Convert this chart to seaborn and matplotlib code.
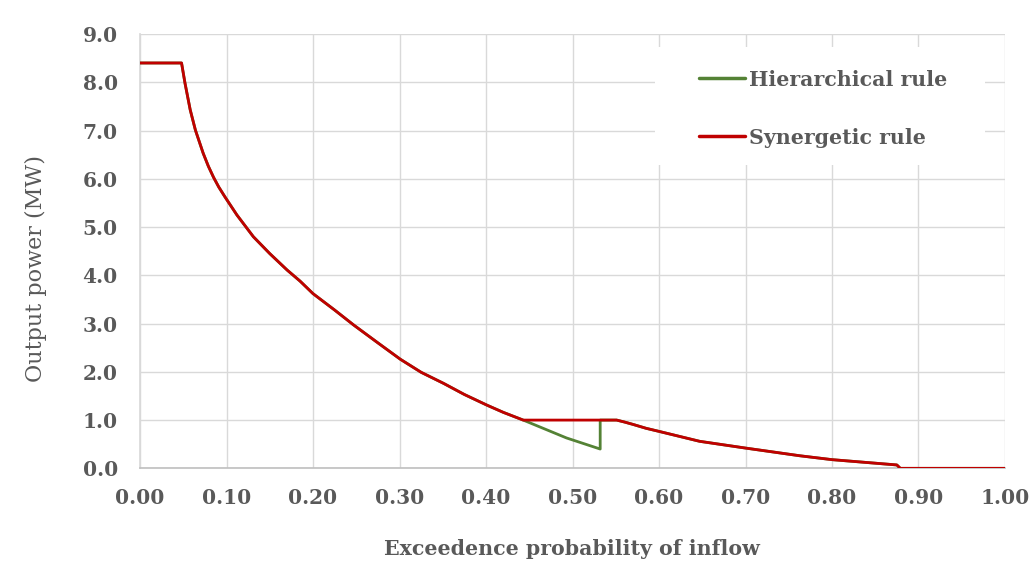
import matplotlib
matplotlib.use("Agg")
import matplotlib.pyplot as plt
from matplotlib.patches import Rectangle
import seaborn as sns
import pandas as pd

# Shared descending part of the duration curve (exceedence probability, MW)
base_p = [0.000, 0.048, 0.052, 0.058, 0.064, 0.073, 0.079, 0.085, 0.091, 0.098,
          0.112, 0.131, 0.150, 0.170, 0.185, 0.200, 0.225, 0.247, 0.275, 0.301,
          0.325, 0.351, 0.375, 0.401, 0.420, 0.443]
base_v = [8.40, 8.40, 7.98, 7.43, 7.01, 6.53, 6.26, 6.03, 5.83, 5.63,
          5.25, 4.80, 4.45, 4.11, 3.88, 3.62, 3.28, 2.97, 2.60, 2.26,
          1.99, 1.76, 1.53, 1.31, 1.16, 1.00]

# Tail after the 1.0 MW plateau
tail_p = [0.551, 0.560, 0.570, 0.585, 0.599, 0.647, 0.700, 0.763, 0.800, 0.875, 0.879, 1.000]
tail_v = [1.00, 0.96, 0.91, 0.83, 0.77, 0.56, 0.42, 0.26, 0.18, 0.07, 0.00, 0.00]

# Hierarchical rule middle section (drops, then jumps back to 1.0)
hier_mid_p = [0.443, 0.493, 0.532, 0.532]
hier_mid_v = [1.00, 0.63, 0.40, 1.00]

# Synergetic rule middle section (holds 1.0 MW)
syn_mid_p = [0.443, 0.532]
syn_mid_v = [1.00, 1.00]

hier_p = base_p + hier_mid_p + tail_p
hier_v = base_v + hier_mid_v + tail_v
syn_p = base_p + syn_mid_p + tail_p
syn_v = base_v + syn_mid_v + tail_v

series_names = ["Hierarchical rule", "Synergetic rule"]
series_colors = ["#548235", "#C00000"]

x_ticks = [0.0, 0.1, 0.2, 0.3, 0.4, 0.5, 0.6, 0.7, 0.8, 0.9, 1.0]
y_ticks = [0.0, 1.0, 2.0, 3.0, 4.0, 5.0, 6.0, 7.0, 8.0, 9.0]

df = pd.concat([
    pd.DataFrame({"p": hier_p, "v": hier_v, "rule": series_names[0]}),
    pd.DataFrame({"p": syn_p, "v": syn_v, "rule": series_names[1]}),
])

sns.set_theme(style="white")
plt.rcParams["font.family"] = ["DejaVu Serif"]
text_color = "#595959"

fig = plt.figure(figsize=(10.35, 5.71), dpi=100)
ax = fig.add_axes([0.1353, 0.1798, 0.8357, 0.7606])

for name, col in zip(series_names, series_colors):
    sub = df[df["rule"] == name]
    sns.lineplot(data=sub, x="p", y="v", sort=False, estimator=None, color=col,
                 linewidth=2.0, label=name, ax=ax, zorder=3)

ax.set_xlim(0, 1.0)
ax.set_ylim(0, 9.0)
ax.set_xticks(x_ticks)
ax.set_yticks(y_ticks)
ax.set_xticklabels([f"{t:.2f}" for t in x_ticks])
ax.set_yticklabels([f"{t:.1f}" for t in y_ticks])
ax.grid(True, color="#D9D9D9", linewidth=1.0)
ax.set_axisbelow(True)
for s in ["top", "right"]:
    ax.spines[s].set_visible(False)
ax.spines["left"].set_color("#D9D9D9")
ax.spines["bottom"].set_color("#BFBFBF")
ax.spines["bottom"].set_linewidth(1.2)
ax.tick_params(axis="both", length=0, labelsize=14.5, colors=text_color)
ax.tick_params(axis="x", pad=14)
ax.tick_params(axis="y", pad=16)
for lab in ax.get_xticklabels() + ax.get_yticklabels():
    lab.set_fontweight("bold")

ax.set_xlabel("Exceedence probability of inflow", fontsize=14.8, fontweight="bold",
              color=text_color)
ax.xaxis.set_label_coords(0.499, -0.163)
ax.set_ylabel("Output power (MW)", fontsize=16, color=text_color)
ax.yaxis.set_label_coords(-0.108, 0.46)

# white background behind legend (hides the grid there)
ax.add_patch(Rectangle((0.595, 0.698), 0.382, 0.272, transform=ax.transAxes,
                       facecolor="white", edgecolor="none", zorder=2.5))

leg = ax.legend(loc="upper left", bbox_to_anchor=(0.646, 0.918), frameon=False,
                fontsize=14.8, labelspacing=1.85, handlelength=2.25, handletextpad=0.2,
                borderpad=0.0, borderaxespad=0.0)
for t in leg.get_texts():
    t.set_color(text_color)
    t.set_fontweight("bold")
for h in leg.get_lines():
    h.set_linewidth(2.5)

fig.savefig("out.png", dpi=100)
